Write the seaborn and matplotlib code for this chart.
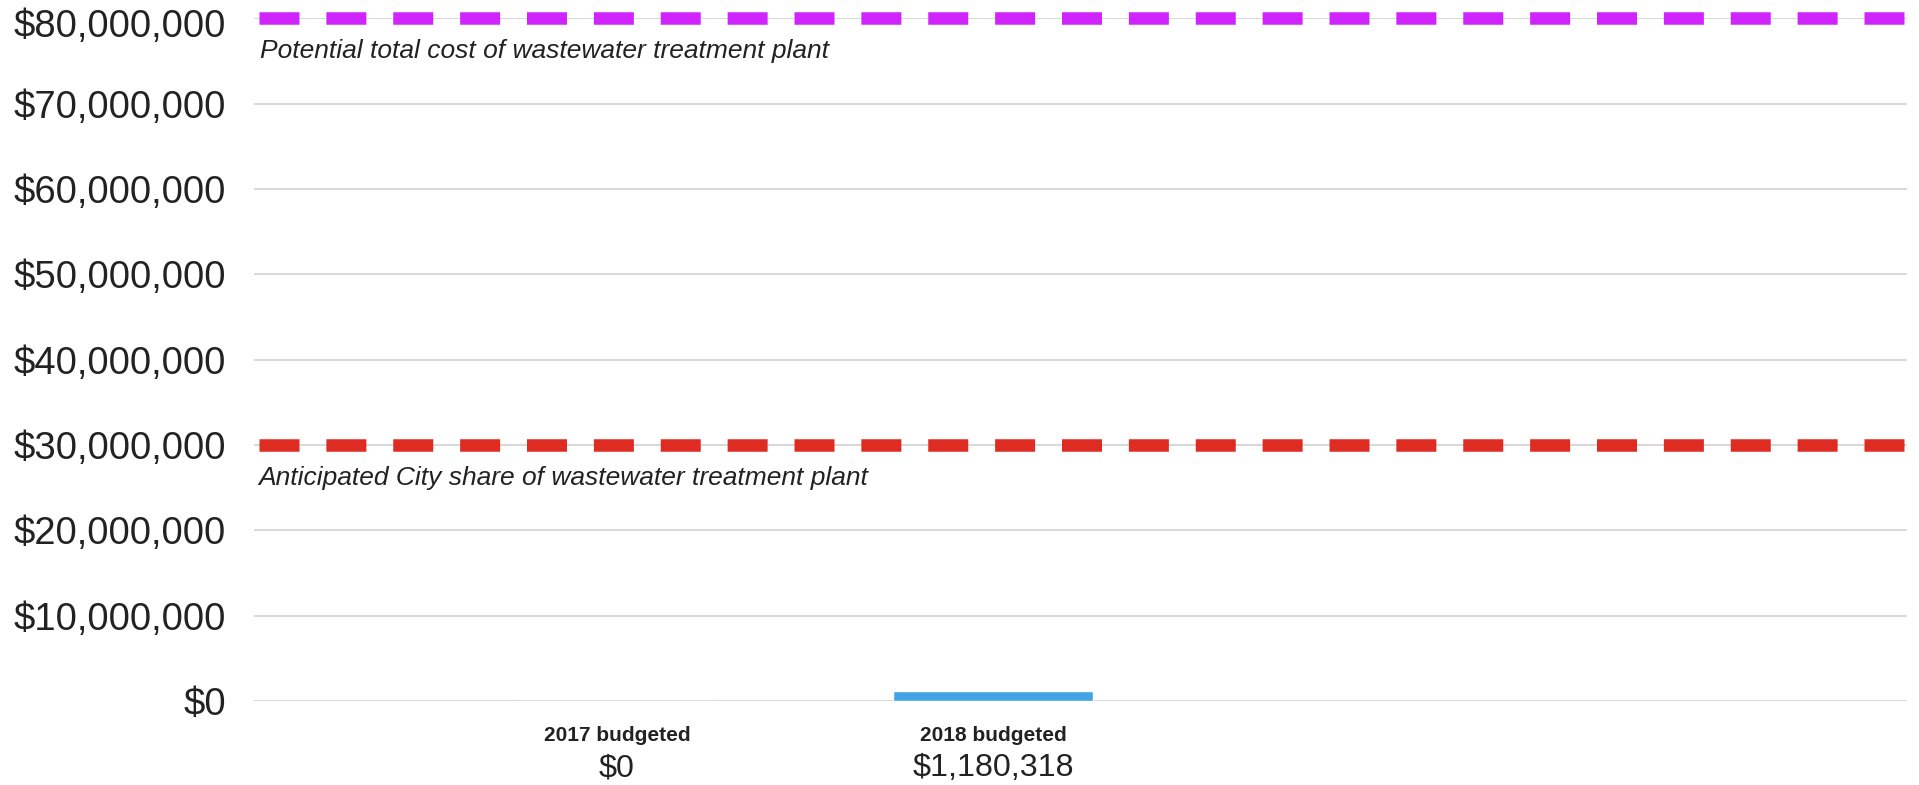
import matplotlib
matplotlib.use("Agg")
import matplotlib.pyplot as plt
import matplotlib.transforms as mtransforms
import seaborn as sns
import pandas as pd
from matplotlib.ticker import FuncFormatter

# ---- data ----
categories = ["2017 budgeted", "2018 budgeted"]
values = [0, 1180318]
value_labels = ["$0", "$1,180,318"]
total_cost = 80000000
total_cost_label = "Potential total cost of wastewater treatment plant"
city_share = 30000000
city_share_label = "Anticipated City share of wastewater treatment plant"
y_ticks = [0, 10000000, 20000000, 30000000, 40000000, 50000000, 60000000, 70000000, 80000000]

sns.set_theme(style="white")
plt.rcParams["font.family"] = ["Liberation Sans", "DejaVu Sans"]

TEXT = "#222222"
GRID = "#d9d9d9"
BAR = "#44a3e6"
PURPLE = "#d024ff"
RED = "#de2c22"

fig = plt.figure(figsize=(19.19, 7.85), dpi=100)
ax = fig.add_axes([254 / 1919, 1 - 701 / 785, (1907 - 254) / 1919, (701 - 18.4) / 785])

df = pd.DataFrame({"category": categories, "value": values})
sns.barplot(data=df, x="category", y="value", ax=ax, color=BAR, width=0.53,
            saturation=1, zorder=3)

ax.set_xlim(-0.965, 3.431)
ax.set_ylim(0, 80000000)
ax.set_yticks(y_ticks)
ax.yaxis.set_major_formatter(FuncFormatter(lambda v, p: "${:,.0f}".format(v)))
ax.grid(axis="y", color=GRID, linewidth=1.5, zorder=0)
ax.grid(axis="x", visible=False)
for s in ax.spines.values():
    s.set_visible(False)
ax.tick_params(axis="y", length=0, pad=20, labelsize=27.5, labelcolor=TEXT)
ax.tick_params(axis="x", length=0, pad=18, labelsize=15, labelcolor=TEXT)
for lab in ax.get_xticklabels():
    lab.set_fontweight("bold")
ax.set_xlabel("")
ax.set_ylabel("")

# push the top y tick label slightly down so it stays inside the figure
fig.canvas.draw()
top_lab = ax.get_yticklabels()[-1]
top_lab.set_transform(top_lab.get_transform() +
                      mtransforms.ScaledTranslation(0, -5 / 100, fig.dpi_scale_trans))

# value labels below category labels
for i, lab in enumerate(value_labels):
    ax.annotate(lab, xy=(i, 0), xycoords=("data", "data"), xytext=(0, -48.5),
                textcoords="offset points", ha="center", va="center",
                fontsize=23.2, color=TEXT, annotation_clip=False)

# reference lines
for yv, col in [(total_cost, PURPLE), (city_share, RED)]:
    ax.axhline(yv, xmin=0.003, xmax=1, color=col, linewidth=9,
               linestyle=(0, (3.2, 2.15)), clip_on=False, zorder=4)

ax.annotate(total_cost_label, xy=(0, total_cost), xycoords=("axes fraction", "data"),
            xytext=(4, -23.5), textcoords="offset points", ha="left", va="center",
            fontsize=19, style="italic", color=TEXT)
ax.annotate(city_share_label, xy=(0, city_share), xycoords=("axes fraction", "data"),
            xytext=(3, -23.5), textcoords="offset points", ha="left", va="center",
            fontsize=19, style="italic", color=TEXT)

fig.savefig("out.png", dpi=100)
